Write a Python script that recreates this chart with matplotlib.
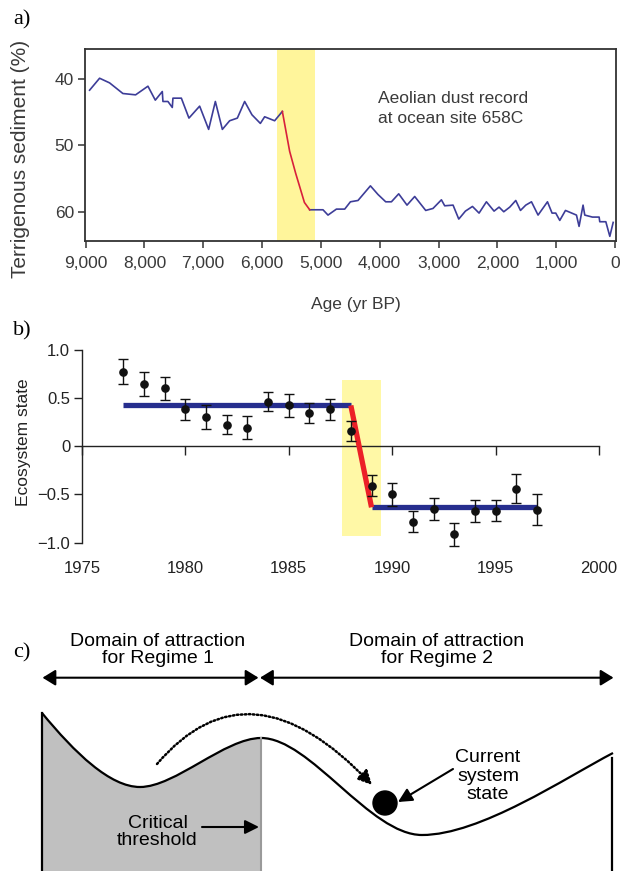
import matplotlib.pyplot as plt
import numpy as np
from matplotlib.path import Path
from matplotlib.patches import PathPatch, FancyArrowPatch, Circle, Rectangle

plt.rcParams['font.family'] = ['Liberation Sans', 'DejaVu Sans']

# a) aeolian dust record at ocean site 658C (age in yr BP, terrigenous %)
age = [8932, 8762, 8592, 8366, 8150, 7940, 7815, 7696, 7685, 7600, 7526, 7515,
       7372, 7243, 7061, 6908, 6794, 6675, 6551, 6420, 6296, 6172, 6029, 5956,
       5786, 5655, 5531, 5429, 5361, 5280, 5190, 4964, 4879, 4736, 4595, 4498,
       4369, 4158, 4029, 3898, 3801, 3677, 3536, 3405, 3218, 3094, 2951, 2895,
       2753, 2656, 2543, 2423, 2311, 2186, 2056, 1971, 1891, 1789, 1687, 1607,
       1517, 1420, 1308, 1148, 1070, 1007, 939, 842, 655, 611, 543, 514, 384,
       270, 259, 156, 88, 31]
terrigenous = [41.7, 39.9, 40.6, 42.2, 42.4, 41.1, 43.2, 41.9, 43.4, 43.4, 44.3, 42.9,
               42.9, 45.9, 44.1, 47.6, 43.4, 47.6, 46.3, 45.9, 43.4, 45.4, 46.7, 45.7,
               46.3, 44.9, 50.9, 54.2, 56.2, 58.6, 59.7, 59.7, 60.5, 59.6, 59.6, 58.5,
               58.3, 56.1, 57.4, 58.5, 58.5, 57.3, 59.0, 57.7, 59.8, 59.5, 58.2, 59.1,
               59.0, 61.1, 59.9, 59.2, 60.2, 58.5, 59.9, 59.3, 60.0, 59.3, 58.3, 59.8,
               59.0, 58.5, 60.5, 58.5, 60.2, 60.2, 61.3, 59.8, 60.5, 62.2, 59.0, 60.5,
               60.8, 60.8, 61.5, 61.5, 63.7, 61.6]
shift_from, shift_to = 5655, 5190
band_a = (5750, 5095)
age_ticks = [9000, 8000, 7000, 6000, 5000, 4000, 3000, 2000, 1000, 0]
age_labels = ['9,000', '8,000', '7,000', '6,000', '5,000', '4,000', '3,000',
              '2,000', '1,000', '0']

# b) ecosystem state
years = list(range(1977, 1998))
eco_state = [0.77, 0.64, 0.60, 0.38, 0.30, 0.22, 0.19, 0.46, 0.42, 0.34, 0.38,
             0.155, -0.41, -0.50, -0.785, -0.65, -0.915, -0.67, -0.67, -0.445, -0.66]
eco_err = [0.13, 0.125, 0.12, 0.11, 0.12, 0.10, 0.12, 0.10, 0.12, 0.105, 0.11,
           0.10, 0.11, 0.117, 0.11, 0.115, 0.12, 0.115, 0.11, 0.15, 0.16]
regime1_years, regime1_level = [1977, 1988], 0.42
regime2_years, regime2_level = [1989, 1997], -0.635
band_b_x = (1987.55, 1989.45)
band_b_y = (-0.93, 0.68)
year_ticks = [1975, 1980, 1985, 1990, 1995, 2000]
state_ticks = [-1.0, -0.5, 0, 0.5, 1.0]
state_labels = ['\u22121.0', '\u22120.5', '0', '0.5', '1.0']

# c) stability landscape (diagram units, y grows downward)
land_x = [42, 75, 110, 140, 175, 225, 261, 310, 370, 422, 480, 565, 613]
land_y = [713, 753, 787, 787, 787, 738, 738, 738, 835, 835, 835, 778, 753]
ground = 871
ball = (385, 803)
jump_x = [157, 249.5, 372]
jump_y = [764, 655.5, 785]

W, H = 620, 871
fig = plt.figure(figsize=(W / 100, H / 100), dpi=100)

# ---------- a)
txt_a = '#3a3a3a'
axa = fig.add_axes([85 / W, 1 - 241 / H, 531 / W, 192 / H])
age_arr = np.array(age)
terr = np.array(terrigenous)
axa.axvspan(band_a[0], band_a[1], color='#fff59b', lw=0)
pre = age_arr >= shift_from
post = age_arr <= shift_to
mid = (age_arr <= shift_from) & (age_arr >= shift_to)
axa.plot(age_arr[pre], terr[pre], color='#3d3d98', lw=1.2)
axa.plot(age_arr[post], terr[post], color='#3d3d98', lw=1.2)
axa.plot(age_arr[mid], terr[mid], color='#d8203c', lw=1.2)
axa.set_xlim(9010, -17)
axa.set_ylim(64.4, 35.5)
axa.set_xticks(age_ticks, age_labels)
axa.set_yticks([40, 50, 60])
for s in axa.spines.values():
    s.set_color('#333333')
    s.set_linewidth(1.3)
axa.tick_params(axis='x', length=5, width=1.1, pad=6, labelsize=12.5,
                colors='#333333', labelcolor=txt_a)
axa.tick_params(axis='y', length=5, width=1.1, pad=3, labelsize=12.5,
                colors='#333333', labelcolor=txt_a)
axa.set_ylabel('Terrigenous sediment (%)', fontsize=15, color=txt_a)
axa.yaxis.set_label_coords(-0.104, 0.427)
axa.set_xlabel('Age (yr BP)', fontsize=12.5, color=txt_a)
axa.xaxis.set_label_coords(0.51, -0.29)
axa.text(0.552, 0.69, 'Aeolian dust record\nat ocean site 658C', transform=axa.transAxes,
         fontsize=12.5, color=txt_a, va='center', ha='left', linespacing=1.45)

# ---------- b)
txt_b = '#222222'
axb = fig.add_axes([82 / W, 1 - 557 / H, 517 / W, 212.3 / H])
axb.add_patch(Rectangle((band_b_x[0], band_b_y[0]), band_b_x[1] - band_b_x[0],
                        band_b_y[1] - band_b_y[0], color='#fff8a6', lw=0, zorder=0))
axb.plot(regime1_years, [regime1_level] * 2, color='#262e8e', lw=3.8,
         solid_capstyle='butt', zorder=2)
axb.plot(regime2_years, [regime2_level] * 2, color='#262e8e', lw=3.8,
         solid_capstyle='butt', zorder=2)
axb.plot([regime1_years[1], regime2_years[0]], [regime1_level, regime2_level],
         color='#ec2027', lw=3.8, solid_capstyle='butt', zorder=3)
axb.errorbar(years, eco_state, yerr=eco_err, fmt='o', color='#111111', ms=5.2,
             capsize=3.8, elinewidth=1, capthick=1, zorder=4)
axb.set_xlim(1975, 2000)
axb.set_ylim(-1.15, 1.05)
axb.spines[['top', 'right']].set_visible(False)
axb.spines['bottom'].set_position(('data', 0))
axb.spines['left'].set_bounds(-1, 1)
for s in axb.spines.values():
    s.set_linewidth(1)
    s.set_color('#222222')
axb.set_xticks(year_ticks)
axb.tick_params(axis='x', length=6.5, width=1, direction='out', labelbottom=False,
                colors='#222222')
axb.set_yticks(state_ticks, state_labels)
axb.tick_params(axis='y', length=5.5, width=1, pad=3, labelsize=12, colors='#222222',
                labelcolor=txt_b)
sec = axb.secondary_xaxis(0)
sec.spines['bottom'].set_visible(False)
sec.set_xticks(year_ticks)
sec.tick_params(length=0, pad=3, labelsize=12, labelcolor=txt_b)
axb.set_ylabel('Ecosystem state', fontsize=12.5, color=txt_b)
axb.yaxis.set_label_coords(-0.099, 0.539)

# ---------- c)
axc = fig.add_axes([0, 0, 1, 271 / H])
axc.set_xlim(0, W)
axc.set_ylim(ground, 600)
axc.axis('off')

land = list(zip(land_x, land_y))
land_codes = [Path.MOVETO] + [Path.CURVE4] * (len(land) - 1)
fill_verts = [(land_x[0], ground)] + land[:7] + [(land_x[6], ground), (land_x[0], ground)]
fill_codes = [Path.MOVETO, Path.LINETO] + [Path.CURVE4] * 6 + [Path.LINETO, Path.CLOSEPOLY]
axc.add_patch(PathPatch(Path(fill_verts, fill_codes), facecolor='#c0c0c0', lw=0))
axc.plot([land_x[6] - 0.5] * 2, [land_y[6], ground], color='#9a9a9a', lw=1.5)
axc.add_patch(PathPatch(Path(land, land_codes), facecolor='none', edgecolor='black', lw=1.6))
axc.plot([land_x[0]] * 2, [land_y[0], ground], color='black', lw=1.6)
axc.plot([land_x[-1] - 1.5] * 2, [land_y[-1] + 5, ground], color='black', lw=1.6)

axc.add_patch(Circle(ball, 12, color='black'))

jump = Path(list(zip(jump_x, jump_y)), [Path.MOVETO, Path.CURVE3, Path.CURVE3])
axc.add_patch(FancyArrowPatch(path=jump, arrowstyle='-|>,head_length=0.7,head_width=0.35',
                              mutation_scale=12, color='black', lw=1.8,
                              linestyle=(0, (0.6, 1.0))))

arrow_kw = dict(color='black', lw=1.5, shrinkA=0, shrinkB=0, mutation_scale=12)
axc.add_patch(FancyArrowPatch((42.5, 677.7), (258.5, 677.7),
                              arrowstyle='<|-|>,head_length=0.65,head_width=0.4', **arrow_kw))
axc.add_patch(FancyArrowPatch((260, 677.7), (613.5, 677.7),
                              arrowstyle='<|-|>,head_length=0.65,head_width=0.4', **arrow_kw))
axc.add_patch(FancyArrowPatch((202, 827), (259, 827),
                              arrowstyle='-|>,head_length=0.7,head_width=0.35', **arrow_kw))
axc.add_patch(FancyArrowPatch((453, 769), (398, 802),
                              arrowstyle='-|>,head_length=0.7,head_width=0.35', **arrow_kw))

axc.text(158, 650, 'Domain of attraction\nfor Regime 1', ha='center', va='center',
         fontsize=14, linespacing=1.05)
axc.text(437, 650, 'Domain of attraction\nfor Regime 2', ha='center', va='center',
         fontsize=14, linespacing=1.05)
axc.text(157.5, 832, 'Critical\nthreshold', ha='center', va='center', fontsize=14,
         linespacing=1.05)
axc.text(488, 776, 'Current\nsystem\nstate', ha='center', va='center', fontsize=14,
         linespacing=1.1)

# panel letters
for lab, y in [('a)', 20), ('b)', 331), ('c)', 653)]:
    fig.text(13 / W, 1 - y / H, lab, fontsize=16, family='Liberation Serif',
             ha='left', va='center')

fig.savefig('out.png', dpi=100)
